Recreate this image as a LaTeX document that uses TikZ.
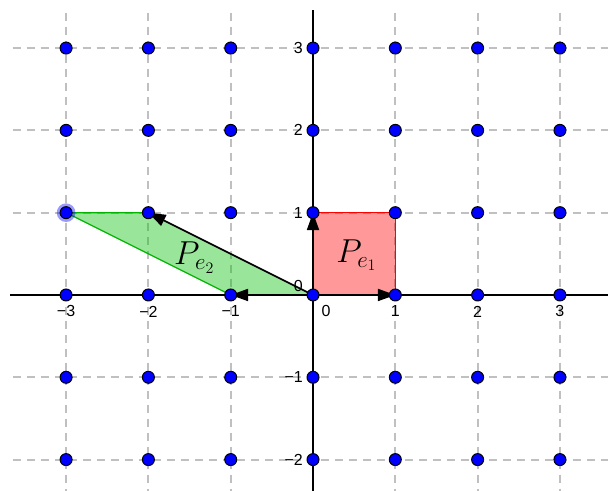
\documentclass[tikz,border=0pt]{standalone}
\usepackage{fontspec}
\newfontfamily\lab{Liberation Sans}
\usetikzlibrary{arrows.meta}
\definecolor{gridgray}{RGB}{192,192,192}
\definecolor{ptblue}{RGB}{0,0,255}
\definecolor{pgreen}{RGB}{0,191,0}
\definecolor{pgreenline}{RGB}{0,180,0}
\definecolor{pred}{RGB}{255,0,0}
\begin{document}
\begin{tikzpicture}[x=61.725pt,y=61.725pt,
  gridline/.style={gridgray, line width=1.5pt, dash pattern=on 6.5pt off 4pt},
  axisline/.style={black, line width=1pt},
  vec/.style={black, line width=1.3pt, -{Triangle[length=13pt,width=9pt]}},
  ptnode/.style={circle, fill=ptblue, draw=black, line width=0.75pt, minimum size=9pt, inner sep=0pt},
  halo/.style={circle, fill=ptblue, fill opacity=0.4, minimum size=14pt, inner sep=0pt},
  tick/.style={font=\lab\fontsize{12}{14}\selectfont, inner sep=0pt},
  plabel/.style={font=\fontsize{25}{29}\selectfont, inner sep=0pt, anchor=base west}]
\useasboundingbox (-3.803,-2.381) rectangle (3.584,3.584);
% grid
\foreach \x in {-3,-2,-1,1,2,3} \draw[gridline] (\x,3.43) -- (\x,-2.381);
\foreach \y in {-2,-1,1,2,3} \draw[gridline] (-3.65,\y) -- (3.584,\y);
% named coordinates
\coordinate (O) at (0,0);
\coordinate (A) at (1,0);
\coordinate (B) at (0,1);
\coordinate (C) at (1,1);
\coordinate (D) at (-1,0);
\coordinate (E) at (-2,1);
\coordinate (F) at (-3,1);
\coordinate (xl) at (-3.68,0);
\coordinate (xr) at (3.584,0);
\coordinate (yt) at (0,3.46);
\coordinate (yb) at (0,-2.381);
% fills
\fill[pred, fill opacity=0.4] (O) -- (A) -- (C) -- (B) -- cycle;
\fill[pgreen, fill opacity=0.4] (O) -- (D) -- (F) -- (E) -- cycle;
% axes
\draw[axisline] (xl) -- (xr);
\draw[axisline] (yb) -- (yt);
% polygon borders
\draw[pred, line width=1pt] (A) -- (C) -- (B);
\draw[pgreenline, line width=1pt] (D) -- (F) -- (E);
% vectors
\draw[vec] (O) -- (A);
\draw[vec] (O) -- (B);
\draw[vec] (O) -- (D);
\draw[vec] (O) -- (E);
% halo of selected point
\node[halo] (h) at (F) {};
% points
\foreach \x in {-3,...,3} \foreach \y in {-2,...,3}
  \node[ptnode] (p\x_\y) at (\x,\y) {};
% tick labels
\foreach \x/\t in {-3/−3,-2/−2,-1/−1,1/1,2/2,3/3}
  \node[tick] (tx\x) at (\x,-0.2) {\t};
\node[tick] (tx0) at (0.158,-0.2) {0};
\foreach \y/\t in {-2/−2,-1/−1,1/1,2/2,3/3}
  \node[tick, anchor=east] (ty\y) at (-0.12,\y) {\t};
\node[tick, anchor=east] (ty0) at (-0.12,0.11) {0};
% polygon labels
\node[plabel] (l1) at (0.28,0.40) {$P_{e_1}$};
\node[plabel] (l2) at (-1.69,0.365) {$P_{e_2}$};
\end{tikzpicture}
\end{document}
